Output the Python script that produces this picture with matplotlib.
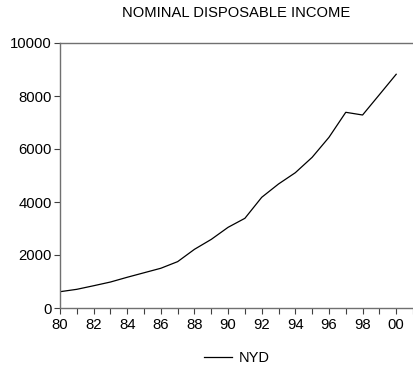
import matplotlib
matplotlib.use("Agg")
import matplotlib.pyplot as plt
from matplotlib.ticker import MultipleLocator, FixedLocator

plt.rcParams['font.family'] = ['Liberation Sans', 'DejaVu Sans']

years = list(range(1980, 2001))
nyd = [615, 705, 840, 980, 1160, 1330, 1500, 1750, 2215, 2590, 3045, 3385,
       4177, 4680, 5106, 5686, 6440, 7385, 7283, 8050, 8820]
xtick_years = list(range(1980, 2001, 2))
xtick_labels = [f"{y % 100:02d}" for y in xtick_years]
yticks = [0, 2000, 4000, 6000, 8000, 10000]

fig = plt.figure(figsize=(4.13, 3.70), dpi=100)
ax = fig.add_axes([60/413, 1 - 308/370, 353/413, (308 - 43)/370])

line, = ax.plot(years, nyd, color='black', lw=0.9, label='NYD')

ax.set_xlim(1980, 2001)
ax.set_ylim(0, 10000)
ax.xaxis.set_major_locator(FixedLocator(xtick_years))
ax.set_xticklabels(xtick_labels)
ax.xaxis.set_minor_locator(MultipleLocator(1))
ax.set_yticks(yticks)

for s in ['left', 'bottom', 'top']:
    ax.spines[s].set_color('#707070')
    ax.spines[s].set_linewidth(1.0)
ax.spines['right'].set_visible(False)

ax.tick_params(axis='both', which='both', direction='out', color='#404040',
               labelsize=10.7, width=0.8)
ax.tick_params(axis='x', which='major', length=4, pad=3)
ax.tick_params(axis='x', which='minor', length=4)
ax.tick_params(axis='y', length=4, pad=2)

fig.text(236.5/413, 1 - 13/370, 'NOMINAL DISPOSABLE INCOME', ha='center',
         va='center', fontsize=10.6)

fig.legend(handles=[line], loc='center', bbox_to_anchor=(237/413, 1 - 358/370),
           frameon=False, fontsize=10.5, handlelength=1.9, handletextpad=0.5)

fig.savefig('out.png', dpi=100)
